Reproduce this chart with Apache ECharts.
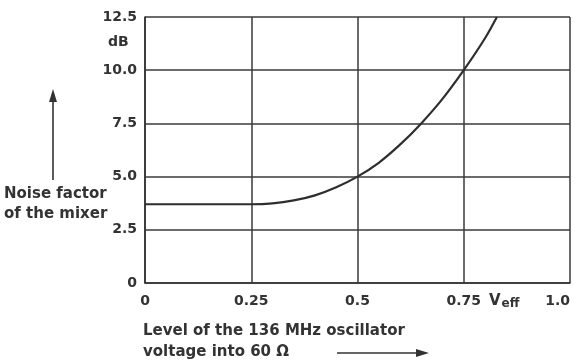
<!DOCTYPE html>
<html><head><meta charset="utf-8">
<script src="https://cdn.jsdelivr.net/npm/echarts@6/dist/echarts.min.js"></script>
<style>html,body{margin:0;padding:0;background:#fff}#c{width:575px;height:361px}</style>
</head><body><div id="c"></div>
<script>
const xValues = [0, 0.10, 0.20, 0.25, 0.30, 0.35, 0.40, 0.45, 0.50, 0.55, 0.60, 0.65, 0.70, 0.75, 0.80, 0.828];
const noiseDb = [3.7, 3.7, 3.7, 3.7, 3.74, 3.88, 4.12, 4.5, 5.0, 5.65, 6.5, 7.5, 8.65, 10.0, 11.5, 12.5];
const xTickLabels = {"0": "0", "0.25": "0.25", "0.5": "0.5", "0.75": "0.75", "1": "1.0"};
const yTickLabels = {"0": "0", "2.5": "2.5", "5": "5.0", "7.5": "7.5", "10": "10.0", "12.5": "12.5"};
const yUnit = "dB";
const xUnit = "V";
const xUnitSub = "eff";
const yTitle = ["Noise factor", "of the mixer"];
const xTitle = ["Level of the 136 MHz oscillator", "voltage into 60 Ω"];

const ink = '#333333';
const font = '"DejaVu Sans", sans-serif';
const chart = echarts.init(document.getElementById('c'), null, {renderer: 'canvas'});
chart.setOption({
  animation: false,
  backgroundColor: '#fff',
  grid: {left: 145, right: 5, top: 17, bottom: 78},
  xAxis: {
    type: 'value', min: 0, max: 1, interval: 0.25,
    axisLine: {lineStyle: {color: ink, width: 1.6}},
    axisTick: {show: false},
    splitLine: {lineStyle: {color: '#3a3a3a', width: 1.5}},
    axisLabel: {color: ink, fontFamily: font, fontSize: 14, fontWeight: 'bold', margin: 11,
      alignMaxLabel: 'right',
      formatter: v => xTickLabels[String(v)] ?? ''},
  },
  yAxis: {
    type: 'value', min: 0, max: 12.5, interval: 2.5,
    axisLine: {lineStyle: {color: ink, width: 1.6}},
    axisTick: {show: false},
    splitLine: {lineStyle: {color: '#3a3a3a', width: 1.5}},
    axisLabel: {color: ink, fontFamily: font, fontSize: 14, fontWeight: 'bold', margin: 8,
      formatter: v => yTickLabels[String(v)] ?? ''},
  },
  series: [{
    type: 'line', data: xValues.map((x, i) => [x, noiseDb[i]]),
    smooth: 0.3, showSymbol: false,
    lineStyle: {color: '#2e2e2e', width: 2.2}
  }],
  graphic: [
    {type: 'text', left: 108, top: 35, style: {text: yUnit, fill: ink, font: 'bold 14px ' + font}},
    {type: 'text', left: 4, top: 184, style: {text: yTitle.join('\n'), fill: ink, font: 'bold 15px ' + font, lineHeight: 20}},
    {type: 'line', shape: {x1: 53, y1: 180, x2: 53, y2: 100}, style: {stroke: ink, lineWidth: 1.6}},
    {type: 'polygon', shape: {points: [[53, 89], [49, 102], [57, 102]]}, style: {fill: ink}},
    {type: 'text', left: 489, top: 294, style: {
      text: '{v|' + xUnit + '}{s|' + xUnitSub + '}', fill: ink,
      rich: {v: {fontSize: 15, fontWeight: 'bold', fontFamily: font, fill: ink}, s: {fontSize: 12, fontWeight: 'bold', fontFamily: font, fill: ink, padding: [5, 0, 0, 1]}}}},
    {type: 'text', left: 143, top: 321, style: {text: xTitle.join('\n'), fill: ink, font: 'bold 15px ' + font, lineHeight: 21}},
    {type: 'line', shape: {x1: 337, y1: 353, x2: 418, y2: 353}, style: {stroke: ink, lineWidth: 1.6}},
    {type: 'polygon', shape: {points: [[429, 353], [416, 349], [416, 357]]}, style: {fill: ink}}
  ]
});
</script></body></html>
